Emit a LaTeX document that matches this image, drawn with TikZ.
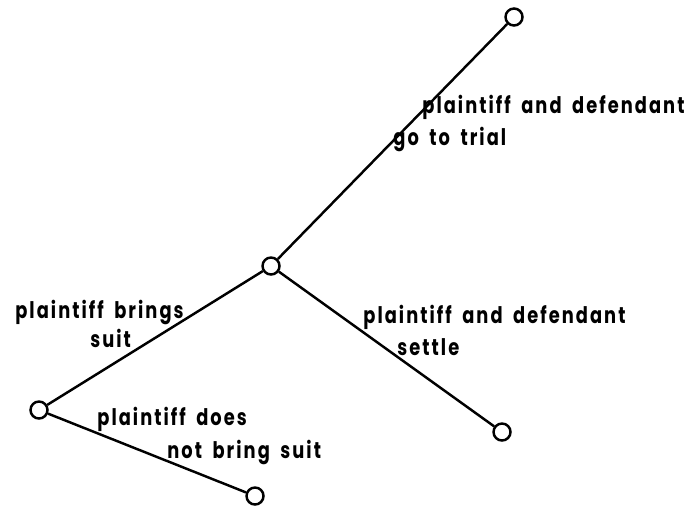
\documentclass[tikz,border=0pt]{standalone}
\usepackage{fontspec}
\setmainfont{Poppins}[FakeStretch=0.78, LetterSpace=9, WordSpace=1.8]
\usepackage{tikz}
\usetikzlibrary{positioning}

\begin{document}
\begin{tikzpicture}[
  state/.style={circle, draw, line width=1.4pt, minimum size=0.34cm, inner sep=0pt, fill=white},
  edge/.style={line width=1.4pt},
  lbl/.style={anchor=base west, inner sep=0pt, font=\fontsize{13}{15}\selectfont\bfseries}
]
\useasboundingbox (0,0) rectangle (13.78,10.12);
\node[state] (start) at (0.78, 1.92) {};
\node[state] (suit) at (5.42, 4.80) {};
\node[state] (nosuit) at (5.10, 0.20) {};
\node[state] (trial) at (10.28, 9.78) {};
\node[state] (settle) at (10.04, 1.48) {};
\draw[edge] (start) -- (suit);
\draw[edge] (start) -- (nosuit);
\draw[edge] (suit) -- (trial);
\draw[edge] (suit) -- (settle);
% labels
\node[lbl] (ltrialA) at (8.44, 7.86) {plaintiff and defendant};
\node[lbl] (ltrialB) at (7.86, 7.22) {go to trial};
\node[lbl] (lsuitA) at (0.30, 3.76) {plaintiff brings};
\node[lbl] (lsuitB) at (1.80, 3.18) {suit};
\node[lbl] (lsettleA) at (7.26, 3.66) {plaintiff and defendant};
\node[lbl] (lsettleB) at (7.94, 3.02) {settle};
\node[lbl] (lnosuitA) at (1.94, 1.62) {plaintiff does};
\node[lbl] (lnosuitB) at (3.34, 0.96) {not bring suit};
\end{tikzpicture}
\end{document}
